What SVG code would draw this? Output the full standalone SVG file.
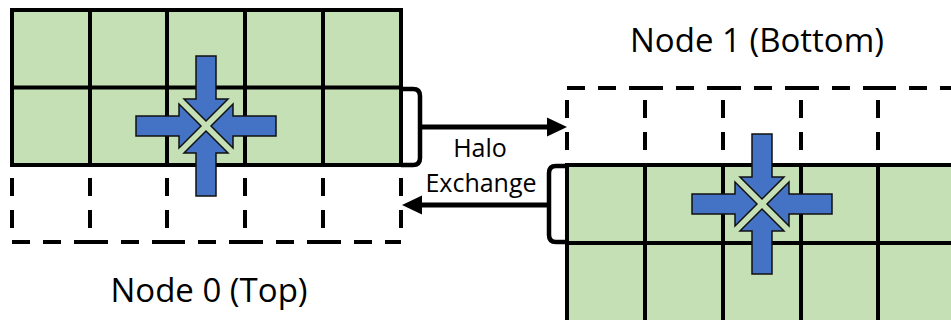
<svg xmlns="http://www.w3.org/2000/svg" xmlns:xlink="http://www.w3.org/1999/xlink" width="951" height="320" viewBox="0 0 951 320">
<style>
.cell{fill:#c5e0b4;stroke:#000;stroke-width:4}
.grid{stroke:#000;stroke-width:4;fill:none}
.dv{stroke:#000;stroke-width:4;stroke-dasharray:18 14;fill:none}
.dh{stroke:#000;stroke-width:4;stroke-dasharray:18 13;fill:none}
.arm{fill:#4472c4;stroke:#111;stroke-width:1.5;stroke-linejoin:miter}
.br{stroke:#000;stroke-width:4.5;fill:none}
.con{stroke:#000;stroke-width:5;fill:none}
.head{fill:#000}
.lbl{font-family:"Open Sans","Liberation Sans",sans-serif;fill:#000;text-anchor:middle}
</style>
<defs>
<g id="cross">
<polygon class="arm" points="-10,-70 10,-70 10,-27 22,-27 0,-5 -22,-27 -10,-27"/>
<polygon class="arm" points="-10,-70 10,-70 10,-27 22,-27 0,-5 -22,-27 -10,-27" transform="rotate(90)"/>
<polygon class="arm" points="-10,-70 10,-70 10,-27 22,-27 0,-5 -22,-27 -10,-27" transform="rotate(180)"/>
<polygon class="arm" points="-10,-70 10,-70 10,-27 22,-27 0,-5 -22,-27 -10,-27" transform="rotate(270)"/>
</g>
</defs>
<g id="node0">
<rect class="cell" x="12" y="10" width="389" height="155"/>
<path class="grid" d="M90,10V165M167,10V165M245,10V165M323,10V165M12,87.5H401"/>
<path class="dv" d="M12,178V228M90,178V228M167,178V228M245,178V228M323,178V228M401,178V228"/>
<path class="dh" d="M12,242H90M90,242H167M167,242H245M245,242H323M323,242H401"/>
<use xlink:href="#cross" href="#cross" transform="translate(206,126)"/>
<text class="lbl" x="209" y="302" font-size="33">Node 0 (Top)</text>
</g>
<g id="node1">
<rect class="cell" x="567" y="165" width="392" height="160"/>
<path class="grid" d="M645,165V325M723,165V325M801,165V325M878,165V325M567,243H959"/>
<path class="dv" d="M567,100V150M645,100V150M723,100V150M801,100V150M878,100V150"/>
<path class="dh" d="M567,88H645M645,88H723M723,88H801M801,88H878M878,88H956"/>
<use xlink:href="#cross" href="#cross" transform="translate(762,204)"/>
<text class="lbl" x="757" y="52" font-size="33">Node 1 (Bottom)</text>
</g>
<g id="connectors">
<path class="br" d="M401,89H413Q420,89 420,96V158Q420,165 413,165H401"/>
<path class="con" d="M420,127H550"/>
<polygon class="head" points="567,127 547,117.5 547,136.5"/>
<path class="br" d="M567,166H556Q549,166 549,173V235Q549,242 556,242H567"/>
<path class="con" d="M549,205H420"/>
<polygon class="head" points="402,205 422,195.5 422,214.5"/>
<text class="lbl" x="480" y="157" font-size="25">Halo</text>
<text class="lbl" x="481" y="192" font-size="25">Exchange</text>
</g>
</svg>
